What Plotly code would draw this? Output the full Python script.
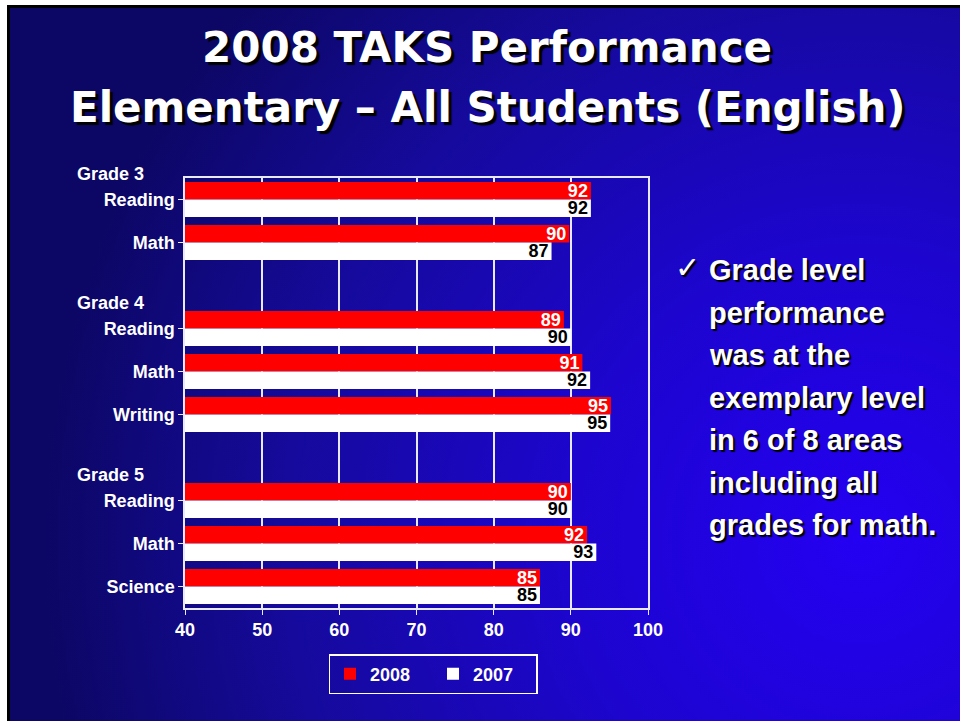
import base64
import plotly.graph_objects as go

# Rows of the chart, top to bottom ("" marks the blank slot between grades)
grades = ["Grade 3", "Grade 4", "Grade 5"]
subjects = [["Reading", "Math"], ["Reading", "Math", "Writing"], ["Reading", "Math", "Science"]]

v2008 = [92.6, 89.8, 89.1, 91.5, 95.2, 90.0, 92.1, 86.0]
v2007 = [92.6, 87.5, 90.0, 92.5, 95.1, 90.0, 93.3, 86.0]
lab2008 = ["92", "90", "89", "91", "95", "90", "92", "85"]
lab2007 = ["92", "87", "90", "92", "95", "90", "93", "85"]

x_ticks = [40, 50, 60, 70, 80, 90, 100]

bullet_lines = ["Grade level", "performance", "was at the", "exemplary level",
                "in 6 of 8 areas", "including all", "grades for math."]

FONT = "Liberation Sans, Arial, sans-serif"

# build category ids, with blank gap rows between grade groups
row_ids, row_text, first_rows = [], [], []
for gi, (g, subs) in enumerate(zip(grades, subjects)):
    if gi > 0:
        row_ids.append("gap%d" % gi)
        row_text.append(None)
    for si, s in enumerate(subs):
        rid = "%s|%s" % (g, s)
        row_ids.append(rid)
        row_text.append(s)
        if si == 0:
            first_rows.append((g, rid))


def spread(vals):
    out, i = [], 0
    for t in row_text:
        if t is None:
            out.append(None)
        else:
            out.append(vals[i])
            i += 1
    return out


real_ids = [r for r, t in zip(row_ids, row_text) if t is not None]
real_text = [t for t in row_text if t is not None]

fig = go.Figure()
fig.add_trace(go.Bar(
    y=row_ids, x=spread(v2008), text=spread(lab2008), name="2008",
    orientation="h",
    marker=dict(color="#ff0000", line=dict(width=0)),
    textposition="inside", insidetextanchor="end", constraintext="none",
    textfont=dict(family=FONT, size=18, color="white", weight="bold"),
))
fig.add_trace(go.Bar(
    y=row_ids, x=spread(v2007), text=spread(lab2007), name="2007",
    orientation="h",
    marker=dict(color="#ffffff", line=dict(width=0)),
    textposition="inside", insidetextanchor="end", constraintext="none",
    textfont=dict(family=FONT, size=18, color="black", weight="bold"),
))

# slide background: dark navy to bright blue, with the thin black frame
svg = """<svg xmlns="http://www.w3.org/2000/svg" width="960" height="721" viewBox="0 0 960 721" preserveAspectRatio="none">
<defs><radialGradient id="g" gradientUnits="userSpaceOnUse" cx="860" cy="540" r="820">
<stop offset="0" stop-color="#2400f2"/><stop offset="0.35" stop-color="#1d05cf"/>
<stop offset="0.7" stop-color="#150a9c"/><stop offset="1" stop-color="#0c0764"/>
</radialGradient></defs>
<rect width="960" height="721" fill="white"/>
<rect x="7" y="5" width="953" height="716" fill="black"/>
<rect x="10" y="8" width="950" height="713" fill="url(#g)"/>
</svg>"""
src = "data:image/svg+xml;base64," + base64.b64encode(svg.encode()).decode()

L, R, T, B = 185, 312, 178, 113
PW, PH = 960 - L - R, 721 - T - B


def px(xp):
    return (xp - L) / PW


def py(yp):
    return (721 - B - yp) / PH


fig.add_layout_image(dict(
    source=src, xref="paper", yref="paper", x=px(0), y=py(0),
    sizex=960 / PW, sizey=721 / PH, xanchor="left", yanchor="top",
    sizing="stretch", layer="below",
))

ann = []
title_font = dict(family="DejaVu Sans", size=42, color="white",
                  weight="bold", shadow="3px 3px 1px #000000")
ann.append(dict(text="2008 TAKS Performance", x=px(487), y=py(48), xref="paper", yref="paper",
                showarrow=False, xanchor="center", yanchor="middle", font=title_font))
ann.append(dict(text="Elementary – All Students (English)", x=px(488), y=py(107), xref="paper",
                yref="paper", showarrow=False, xanchor="center", yanchor="middle", font=title_font))

for g, rid in first_rows:
    ann.append(dict(text=g, x=px(75), xref="paper", y=rid, yref="y", yshift=26,
                    showarrow=False, xanchor="left", yanchor="middle",
                    font=dict(family=FONT, size=18, color="white", weight="bold")))

ann.append(dict(text="✓", x=px(673), y=py(267), xref="paper", yref="paper", showarrow=False,
                xanchor="left", yanchor="middle",
                font=dict(family="DejaVu Sans", size=30, color="white",
                          shadow="2px 2px 1px #000000")))
for i, line in enumerate(bullet_lines):
    ann.append(dict(text=line, x=px(707), y=py(270 + 42.5 * i), xref="paper", yref="paper",
                    showarrow=False, xanchor="left", yanchor="middle",
                    font=dict(family=FONT, size=29, color="white", weight="bold",
                              shadow="2px 2px 1px #000000")))

fig.update_layout(
    width=960, height=721,
    margin=dict(l=L, r=R, t=T, b=B, pad=0),
    paper_bgcolor="rgba(0,0,0,0)", plot_bgcolor="rgba(0,0,0,0)",
    barmode="group", bargap=0.19, bargroupgap=0,
    font=dict(family=FONT, size=18, color="white"),
    showlegend=True,
    legend=dict(orientation="h", x=px(433), xanchor="center", y=py(654), yanchor="top",
                bordercolor="white", borderwidth=1.5, bgcolor="rgba(0,0,0,0)",
                entrywidth=58, entrywidthmode="pixels",
                font=dict(family=FONT, size=18, color="white", weight="bold"),
                traceorder="normal"),
    annotations=ann,
)
fig.update_xaxes(
    range=[40, 100], tickvals=x_ticks, showgrid=True, gridcolor="#e8e8ff", gridwidth=1.5,
    showline=True, linecolor="#e8e8ff", linewidth=1.5, mirror=True,
    ticks="outside", ticklen=5, tickcolor="#e8e8ff", zeroline=False,
    tickfont=dict(family=FONT, size=18, color="white", weight="bold"),
)
fig.update_yaxes(
    type="category", categoryorder="array", categoryarray=row_ids,
    range=[len(row_ids) - 0.5, -0.5],
    tickvals=real_ids, ticktext=real_text, showgrid=False,
    showline=True, linecolor="#e8e8ff", linewidth=1.5, mirror=True,
    ticks="outside", ticklen=5, tickcolor="#e8e8ff",
    tickfont=dict(family=FONT, size=18, color="white", weight="bold"),
)

# the page's default body margin would shift the slide; remove it
fig.write_html("out.html", config={"displayModeBar": False},
               post_script="document.body.style.margin='0';")
